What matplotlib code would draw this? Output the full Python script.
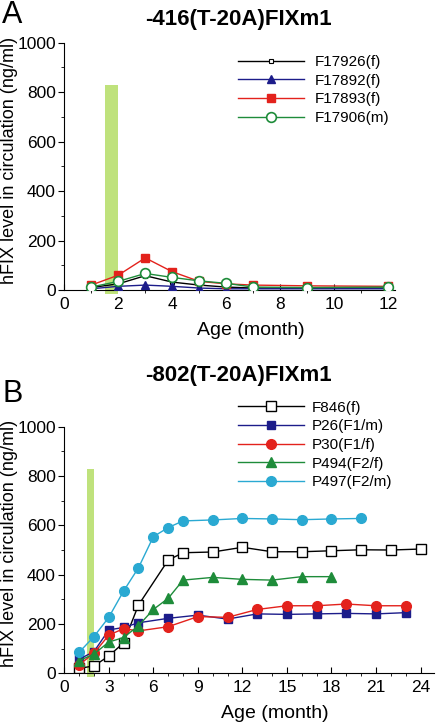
import matplotlib
matplotlib.use("Agg")
import matplotlib.pyplot as plt
from matplotlib.ticker import MultipleLocator
from matplotlib.patches import Rectangle

plt.rcParams['font.family'] = ['Liberation Sans', 'DejaVu Sans']

# ---- Panel A data ----
titleA = "-416(T-20A)FIXm1"
xA = [1, 2, 3, 4, 5, 6, 7, 9, 12]
F17926 = [10, 25, 58, 32, 20, 12, 8, 8, 8]
F17892 = [5, 15, 20, 15, 8, 5, 5, 5, 5]
F17893 = [20, 60, 130, 74, 35, 25, 20, 17, 15]
F17906 = [12, 35, 67, 51, 37, 27, 12, 10, 12]

# ---- Panel B data ----
titleB = "-802(T-20A)FIXm1"
x_F846 = [1, 2, 3, 4, 5, 7, 8, 10, 12, 14, 16, 18, 20, 22, 24]
F846 = [20, 30, 70, 124, 277, 459, 489, 492, 511, 493, 493, 497, 501, 500, 504]
x_P26 = [1, 2, 3, 4, 5, 7, 9, 11, 13, 15, 17, 19, 21, 23]
P26 = [57, 88, 176, 186, 205, 223, 236, 220, 241, 239, 241, 243, 241, 246]
x_P30 = [1, 2, 3, 4, 5, 7, 9, 11, 13, 15, 17, 19, 21, 23]
P30 = [35, 81, 155, 181, 172, 189, 230, 227, 259, 274, 274, 281, 274, 274]
x_P494 = [1, 2, 3, 4, 5, 6, 7, 8, 10, 12, 14, 16, 18]
P494 = [51, 78, 127, 145, 193, 259, 304, 378, 389, 381, 378, 392, 392]
x_P497 = [1, 2, 3, 4, 5, 6, 7, 8, 10, 12, 14, 16, 18, 20]
P497 = [85, 149, 227, 334, 428, 554, 591, 618, 622, 628, 626, 623, 626, 628]

# treatment window (months) and bar height
bar_x0, bar_x1, bar_top = 1.5, 2.0, 830

BLACK = "#000000"
NAVY = "#1c1c8a"
RED = "#e3221c"
GREEN = "#1e8c3a"
CYAN = "#2aa9d2"
LIME = "#bfe27c"

W, H = 437, 724
fig = plt.figure(figsize=(W / 100, H / 100), dpi=100)

def style_axes(ax, xmax, xmajor, xlab_x, ylab_y):
    ax.spines['top'].set_visible(False)
    ax.spines['right'].set_visible(False)
    ax.set_ylim(0, 1000)
    ax.set_xlim(0, xmax)
    ax.yaxis.set_major_locator(MultipleLocator(200))
    ax.yaxis.set_minor_locator(MultipleLocator(100))
    ax.xaxis.set_major_locator(MultipleLocator(xmajor))
    ax.xaxis.set_minor_locator(MultipleLocator(1))
    ax.tick_params(axis='both', which='major', labelsize=12.5, length=4, width=0.8)
    ax.tick_params(axis='both', which='minor', length=2, width=0.6)
    ax.tick_params(axis='x', direction='in', pad=5)
    ax.tick_params(axis='y', direction='out', pad=2)
    ax.set_xlabel("Age (month)", fontsize=14)
    ax.set_ylabel("hFIX level in circulation (ng/ml)", fontsize=13)
    ax.xaxis.label.set_va('center')
    ax.yaxis.label.set_va('center')
    bb = ax.get_position()
    hpx = bb.height * H
    wpx = bb.width * W
    ax.xaxis.set_label_coords(xlab_x, -40 / hpx)
    ax.yaxis.set_label_coords((10 - bb.x0 * W) / wpx, ylab_y)
    ax.add_patch(Rectangle((bar_x0, -15), bar_x1 - bar_x0, bar_top + 15,
                           facecolor=LIME, edgecolor='none', zorder=0, clip_on=False))

# Panel A
axA = fig.add_axes([0.147, 0.5994, 0.757, 0.3416])
style_axes(axA, 12.25, 2, 0.564, 0.522)
axA.plot(xA, F17926, color=BLACK, lw=1, marker='s', ms=3.5, mfc='white', mec=BLACK, mew=0.8, label="F17926(f)", zorder=3)
axA.plot(xA, F17892, color=NAVY, lw=1, marker='^', ms=6, mfc=NAVY, mec=NAVY, label="F17892(f)", zorder=3)
axA.plot(xA, F17893, color=RED, lw=1, marker='s', ms=6, mfc=RED, mec=RED, label="F17893(f)", zorder=3)
axA.plot(xA, F17906, color=GREEN, lw=1, marker='o', ms=7, mfc='white', mec=GREEN, mew=1.2, label="F17906(m)", zorder=3)
fig.text(238 / W, 1 - 20 / H, titleA, fontsize=16, fontweight='bold', ha='center', va='center')
axA.legend(loc='center left', bbox_to_anchor=(238 / W, 1 - 90 / H), bbox_transform=fig.transFigure,
           frameon=False, fontsize=11, handlelength=4.3, handletextpad=0.7, labelspacing=0.3,
           borderaxespad=0, borderpad=0)
fig.text(0.005, 1 - 15 / H, "A", fontsize=22, va='center', ha='left')

# Panel B
axB = fig.add_axes([0.147, 0.070, 0.846, 0.3406])
style_axes(axB, 24.9, 3, 0.57, 0.528)
axB.plot(x_F846, F846, color=BLACK, lw=1, marker='s', ms=7.5, mfc='white', mec=BLACK, mew=1.0, label="F846(f)", zorder=3)
axB.plot(x_P26, P26, color=NAVY, lw=1, marker='s', ms=5.5, mfc=NAVY, mec=NAVY, label="P26(F1/m)", zorder=3)
axB.plot(x_P30, P30, color=RED, lw=1, marker='o', ms=7, mfc=RED, mec=RED, label="P30(F1/f)", zorder=3)
axB.plot(x_P494, P494, color=GREEN, lw=1, marker='^', ms=7.5, mfc=GREEN, mec=GREEN, label="P494(F2/f)", zorder=3)
axB.plot(x_P497, P497, color=CYAN, lw=1, marker='o', ms=7, mfc=CYAN, mec=CYAN, label="P497(F2/m)", zorder=3)
fig.text(238 / W, 1 - 375 / H, titleB, fontsize=16, fontweight='bold', ha='center', va='center')
axB.legend(loc='center left', bbox_to_anchor=(238 / W, 1 - 445 / H), bbox_transform=fig.transFigure,
           frameon=False, fontsize=11, handlelength=4.3, handletextpad=0.5, labelspacing=0.3,
           borderaxespad=0, borderpad=0)
fig.text(0.005, 1 - 394 / H, "B", fontsize=22, va='center', ha='left')

fig.savefig("out.png", dpi=100)
